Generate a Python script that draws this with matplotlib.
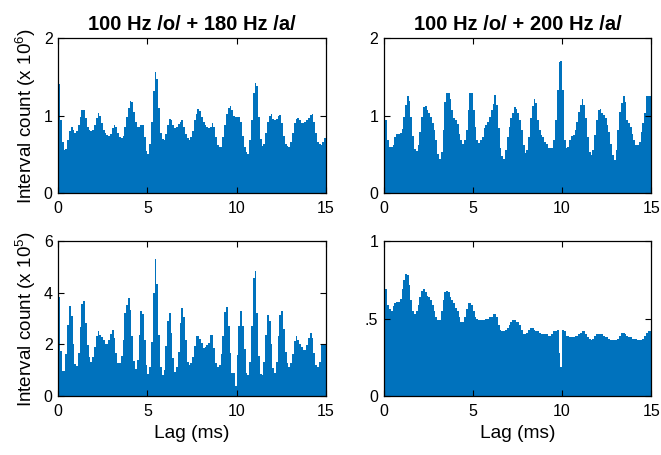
import numpy as np
import matplotlib
matplotlib.use('Agg')
import matplotlib.pyplot as plt

plt.rcParams['font.family'] = ['Liberation Sans', 'DejaVu Sans']
plt.rcParams['mathtext.default'] = 'regular'

# bin edges of the interval histograms (ms)
lag_edges = np.round(np.arange(151) * 0.1, 1)

# 100 Hz /o/ + 180 Hz /a/, upper panel (x 10^6)
counts_180_top = [
    1.41, 0.94, 0.66, 0.56, 0.57, 0.69, 0.80, 0.86, 0.82, 0.78,
    0.80, 0.88, 0.98, 1.07, 1.07, 0.97, 0.86, 0.81, 0.80, 0.81,
    0.88, 0.97, 1.03, 1.00, 0.90, 0.82, 0.78, 0.75, 0.74, 0.76,
    0.84, 0.88, 0.86, 0.78, 0.73, 0.71, 0.74, 0.86, 0.98, 1.10,
    1.19, 1.18, 1.05, 0.92, 0.86, 0.85, 0.88, 0.88, 0.72, 0.55,
    0.50, 0.64, 0.92, 1.32, 1.57, 1.48, 1.10, 0.78, 0.70, 0.69,
    0.76, 0.88, 0.96, 0.95, 0.88, 0.84, 0.85, 0.89, 0.92, 0.94,
    0.86, 0.77, 0.71, 0.69, 0.72, 0.80, 0.94, 1.02, 1.09, 1.06,
    0.98, 0.92, 0.88, 0.86, 0.84, 0.86, 0.90, 0.86, 0.72, 0.62,
    0.59, 0.60, 0.72, 0.88, 1.02, 1.10, 1.12, 1.08, 1.00, 0.98,
    0.98, 0.99, 0.92, 0.74, 0.60, 0.53, 0.51, 0.68, 0.95, 1.30,
    1.42, 1.38, 0.98, 0.70, 0.61, 0.64, 0.78, 0.92, 1.00, 1.02,
    0.96, 0.94, 0.96, 1.00, 1.01, 0.90, 0.74, 0.64, 0.61, 0.60,
    0.66, 0.78, 0.90, 0.96, 0.97, 0.94, 0.91, 0.91, 0.92, 0.94,
    0.97, 1.01, 1.02, 0.92, 0.78, 0.66, 0.63, 0.62, 0.66, 0.71,
]

# 100 Hz /o/ + 200 Hz /a/, upper panel (x 10^6)
counts_200_top = [
    1.38, 0.95, 0.69, 0.59, 0.59, 0.62, 0.72, 0.76, 0.77, 0.78,
    0.83, 0.98, 1.14, 1.25, 1.19, 0.98, 0.74, 0.57, 0.54, 0.62,
    0.79, 0.98, 1.11, 1.12, 1.08, 1.03, 0.98, 0.91, 0.81, 0.69,
    0.50, 0.44, 0.53, 0.81, 1.18, 1.29, 1.29, 1.22, 1.07, 0.97,
    0.94, 0.89, 0.77, 0.69, 0.64, 0.69, 0.81, 1.07, 1.29, 1.30,
    1.07, 0.86, 0.69, 0.65, 0.69, 0.73, 0.84, 0.88, 0.92, 0.98,
    1.07, 1.15, 1.27, 1.14, 0.84, 0.58, 0.48, 0.44, 0.56, 0.73,
    0.86, 0.97, 1.04, 1.11, 1.09, 1.04, 0.94, 0.81, 0.62, 0.52,
    0.56, 0.73, 0.97, 1.12, 1.22, 1.17, 0.94, 0.81, 0.75, 0.72,
    0.66, 0.64, 0.58, 0.58, 0.58, 0.69, 0.94, 1.33, 1.69, 1.71,
    1.33, 0.69, 0.58, 0.60, 0.69, 0.74, 0.75, 0.81, 0.92, 1.05,
    1.14, 1.22, 1.14, 0.97, 0.73, 0.53, 0.49, 0.56, 0.75, 0.94,
    1.07, 1.09, 1.04, 1.01, 0.97, 0.88, 0.79, 0.64, 0.49, 0.43,
    0.56, 0.81, 1.05, 1.16, 1.25, 1.18, 0.94, 0.90, 0.86, 0.76,
    0.69, 0.62, 0.62, 0.66, 0.79, 0.90, 1.03, 1.25, 1.25, 1.25,
]

# 100 Hz /o/ + 180 Hz /a/, lower panel (x 10^5)
counts_180_bottom = [
    3.83, 1.76, 0.98, 0.98, 1.63, 2.76, 3.50, 3.11, 2.01, 1.24,
    1.17, 1.66, 2.67, 3.58, 3.67, 2.82, 1.98, 1.53, 1.33, 1.53,
    1.89, 2.33, 2.53, 2.37, 2.28, 2.18, 2.01, 2.01, 2.18, 2.41,
    2.56, 2.24, 1.66, 1.27, 1.27, 1.55, 2.18, 3.21, 3.55, 3.80,
    3.34, 2.31, 1.37, 1.04, 1.40, 2.37, 3.30, 3.17, 2.18, 1.20,
    0.85, 1.14, 2.11, 3.99, 5.31, 4.35, 2.37, 1.14, 0.82, 1.01,
    1.94, 2.93, 3.24, 2.46, 1.46, 0.95, 1.14, 1.72, 2.85, 3.43,
    3.06, 2.18, 1.33, 1.20, 1.27, 1.53, 1.94, 2.33, 2.33, 2.20,
    2.07, 1.85, 1.89, 1.98, 2.07, 2.37, 2.37, 1.85, 1.30, 1.11,
    1.20, 1.63, 2.33, 3.28, 3.47, 2.72, 1.68, 0.91, 0.88, 0.39,
    1.59, 2.72, 3.30, 2.72, 1.81, 0.91, 0.82, 1.33, 2.72, 4.57,
    4.87, 3.24, 1.55, 0.85, 0.82, 1.33, 2.37, 3.15, 2.93, 2.02,
    1.08, 0.88, 1.33, 2.31, 3.15, 3.30, 2.59, 1.72, 1.30, 1.14,
    1.27, 1.63, 2.15, 2.33, 2.18, 2.02, 1.92, 1.79, 1.79, 1.98,
    2.24, 2.44, 2.24, 1.68, 1.20, 1.14, 1.33, 1.98, 1.98, 1.98,
]

# 100 Hz /o/ + 200 Hz /a/, lower panel
counts_200_bottom = [
    0.855, 0.69, 0.59, 0.56, 0.55, 0.58, 0.60, 0.61, 0.61, 0.63,
    0.69, 0.75, 0.79, 0.78, 0.72, 0.62, 0.55, 0.53, 0.55, 0.59,
    0.64, 0.68, 0.69, 0.67, 0.65, 0.64, 0.62, 0.59, 0.55, 0.51,
    0.49, 0.49, 0.55, 0.62, 0.67, 0.68, 0.67, 0.64, 0.62, 0.60,
    0.57, 0.55, 0.51, 0.48, 0.48, 0.51, 0.56, 0.60, 0.60, 0.59,
    0.55, 0.51, 0.50, 0.49, 0.49, 0.49, 0.49, 0.50, 0.50, 0.51,
    0.51, 0.53, 0.53, 0.51, 0.46, 0.43, 0.42, 0.42, 0.43, 0.44,
    0.46, 0.48, 0.49, 0.49, 0.48, 0.48, 0.46, 0.43, 0.40, 0.40,
    0.41, 0.43, 0.44, 0.44, 0.43, 0.42, 0.42, 0.41, 0.40, 0.40,
    0.40, 0.40, 0.39, 0.39, 0.40, 0.42, 0.42, 0.43, 0.28, 0.19,
    0.43, 0.42, 0.39, 0.39, 0.38, 0.38, 0.38, 0.39, 0.39, 0.40,
    0.41, 0.42, 0.42, 0.40, 0.38, 0.37, 0.36, 0.37, 0.39, 0.40,
    0.40, 0.40, 0.40, 0.39, 0.38, 0.38, 0.37, 0.36, 0.36, 0.36,
    0.36, 0.37, 0.39, 0.41, 0.41, 0.40, 0.39, 0.38, 0.38, 0.37,
    0.37, 0.37, 0.36, 0.36, 0.36, 0.37, 0.39, 0.41, 0.42, 0.42,
]

titles = ['100 Hz /o/ + 180 Hz /a/', '100 Hz /o/ + 200 Hz /a/']
x_ticks = [0, 5, 10, 15]

blue = '#0072BD'

fig = plt.figure(figsize=(6.61, 4.55), dpi=100)
left_x, right_x, width = 0.0882, 0.5805, 0.4048
top_y, bottom_y, height = 0.5758, 0.1297, 0.3396

panels = [
    (left_x, top_y, counts_180_top, 2, [0, 1, 2], ['0', '1', '2']),
    (right_x, top_y, counts_200_top, 2, [0, 1, 2], ['0', '1', '2']),
    (left_x, bottom_y, counts_180_bottom, 6, [0, 2, 4, 6], ['0', '2', '4', '6']),
    (right_x, bottom_y, counts_200_bottom, 1, [0, 0.5, 1], ['0', '.5', '1']),
]

axes = []
for x0, y0, vals, ymax, yt, ytl in panels:
    ax = fig.add_axes([x0, y0, width, height])
    ax.stairs(vals, lag_edges, fill=True, color=blue, linewidth=0)
    ax.set_xlim(0, 15)
    ax.set_ylim(0, ymax)
    ax.set_xticks(x_ticks)
    ax.set_yticks(yt)
    ax.set_yticklabels(ytl)
    ax.tick_params(direction='in', top=True, right=True, length=4,
                   width=0.8, labelsize=11.5)
    ax.tick_params(axis='x', pad=6)
    ax.tick_params(axis='y', pad=4)
    for sp in ax.spines.values():
        sp.set_linewidth(0.9)
    axes.append(ax)

axes[0].set_title(titles[0], fontsize=14.5, fontweight='bold', pad=6)
axes[1].set_title(titles[1], fontsize=14.5, fontweight='bold', pad=6)
axes[0].set_ylabel('Interval count (x 10$^{6}$)', fontsize=13.6, labelpad=4)
axes[2].set_ylabel('Interval count (x 10$^{5}$)', fontsize=13.6, labelpad=4)
axes[2].set_xlabel('Lag (ms)', fontsize=13.8, labelpad=4)
axes[3].set_xlabel('Lag (ms)', fontsize=13.8, labelpad=4)

fig.savefig('out.png', dpi=100)
